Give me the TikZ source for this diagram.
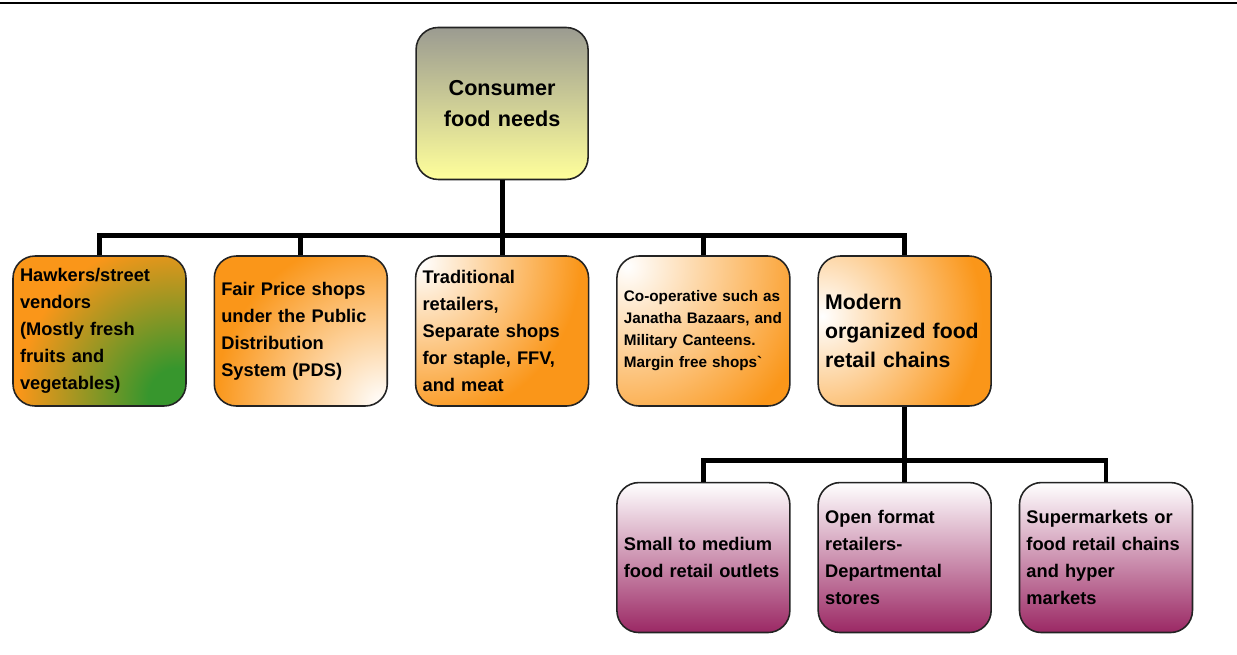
\documentclass[tikz,border=0pt]{standalone}
\usepackage{fontspec}
\setmainfont{Liberation Sans}
\usepackage{xcolor}
\usepackage{tikz}
\usetikzlibrary{positioning}
\usetikzlibrary{calc}
\definecolor{orng}{RGB}{250,150,25}
\definecolor{grn}{RGB}{55,150,45}
\definecolor{plum}{RGB}{155,40,100}
\definecolor{pinkm}{RGB}{215,175,192}
\definecolor{greyt}{RGB}{155,155,145}
\definecolor{ylw}{RGB}{255,255,155}
\definecolor{edge}{RGB}{35,35,35}
\pgfdeclareradialshading{glowwhite}{\pgfpointorigin}{color(0bp)=(white); color(8bp)=(orng); color(50bp)=(orng)}
\pgfdeclareradialshading{glowgreen}{\pgfpointorigin}{color(0bp)=(grn); color(1.5bp)=(grn); color(8bp)=(orng); color(50bp)=(orng)}

\begin{document}
\begin{tikzpicture}
[
x=0.02cm, y=-0.02cm,
node distance = 0.535cm,
base/.style={rectangle, rounded corners=0.44cm, draw=edge, line width=0.9pt, minimum width=3.46cm, minimum height=3cm, inner xsep=0.14cm, text width=3.18cm, align=left, font=\bfseries\fontsize{10.4}{15.3}\selectfont},
root/.style={base, minimum width=3.44cm, minimum height=3.04cm, text width=3.1cm, align=center, top color=greyt, bottom color=ylw, font=\bfseries\fontsize{12.3}{18}\selectfont},
shop/.style={base, fill=orng},
glow/.style n args={3}{path picture={\shade[shading=#1] ($(path picture bounding box.north west)+(#2)$) circle (#3);}},
sub/.style={base, top color=white, middle color=pinkm, bottom color=plum},
conn/.style={line width=2.8pt}
]
\useasboundingbox (0,0) rectangle (1237,654);
\draw[line width=1.1pt] (0,3) -- (1237,3);

% first row
\node[shop, glow={glowgreen}{165,142}{10cm}] (n1) at (99.5,331) {Hawkers/street\\vendors\\(Mostly fresh\\fruits and\\vegetables)};
\node[shop, glow={glowwhite}{168,148}{10.5cm}] (n2) [right=of n1] {Fair Price shops\\under the Public\\Distribution\\System (PDS)};
\node[shop, glow={glowwhite}{5,6}{10cm}] (n3) [right=of n2] {Traditional\\retailers,\\Separate shops\\for staple, FFV,\\and meat};
\node[shop, glow={glowwhite}{10,10}{12cm}, font=\bfseries\fontsize{8.7}{12.5}\selectfont] (n4) [right=of n3] {Co-operative such as\\Janatha Bazaars, and\\Military Canteens.\\Margin free shops\textasciigrave};
\node[shop, glow={glowwhite}{4,60}{10cm}, font=\bfseries\fontsize{12.1}{16.4}\selectfont] (n5) [right=of n4] {Modern\\organized food\\retail chains};

\node[root] (top) [above=1.5cm of n3] {Consumer\\food needs};

% second row
\node[sub] (m1) [below=1.5cm of n4] {Small to medium\\food retail outlets};
\node[sub] (m2) [right=of m1] {Open format\\retailers-\\Departmental\\stores};
\node[sub] (m3) [right=of m2] {Supermarkets or\\food retail chains\\and hyper\\markets};

\draw[conn] (top.south) -- ++(0,55) -| (n1.north);
\draw[conn] (top.south) -- ++(0,55) -| (n2.north);
\draw[conn] (top.south) -- (n3.north);
\draw[conn] (top.south) -- ++(0,55) -| (n4.north);
\draw[conn] (top.south) -- ++(0,55) -| (n5.north);

\draw[conn] (n5.south) -- ++(0,54) -| (m1.north);
\draw[conn] (n5.south) -- (m2.north);
\draw[conn] (n5.south) -- ++(0,54) -| (m3.north);
\end{tikzpicture}
\end{document}
